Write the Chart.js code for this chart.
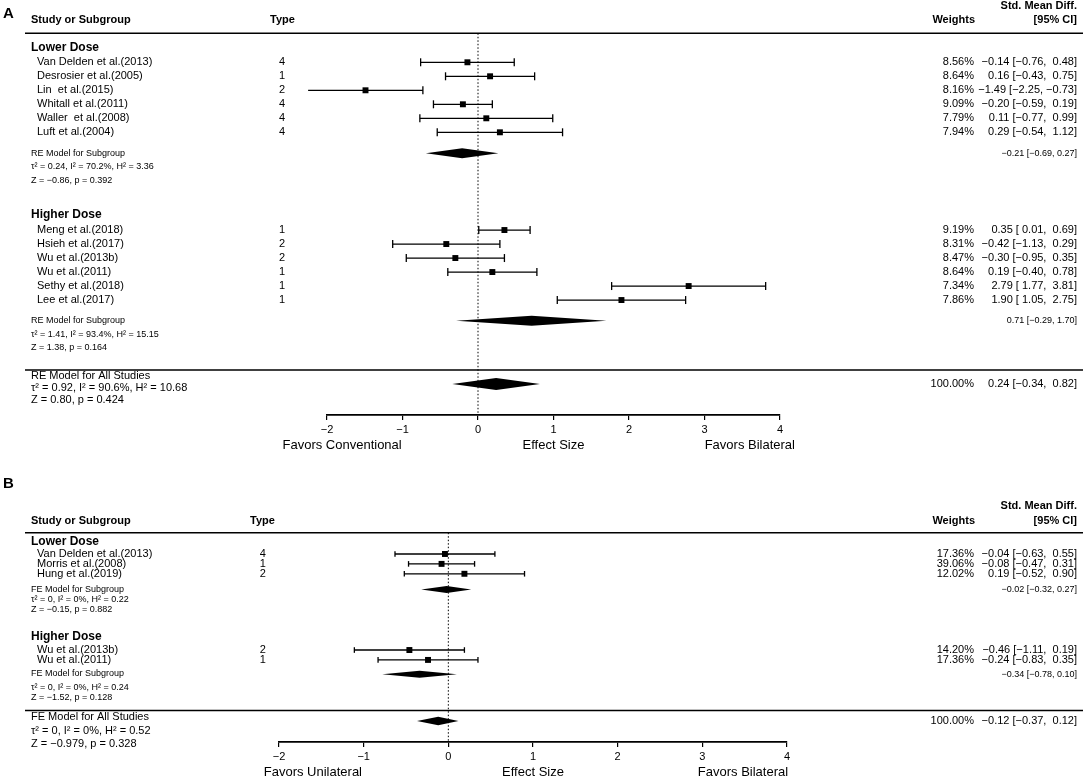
<!DOCTYPE html>
<html lang="en">
<head>
<meta charset="UTF-8">
<title>Forest plot - unilateral vs bilateral</title>
<script src="https://cdn.jsdelivr.net/npm/chart.js@4.4.1/dist/chart.umd.min.js"></script>
<style>
  html, body { margin: 0; padding: 0; background: #fff; overflow: hidden; }
  #wrap { position: relative; width: 1084px; height: 778px; }
  canvas { position: absolute; left: 0; }
  #panelA { top: 0; }
  #panelB { top: 460px; }
</style>
</head>
<body>
<div id="wrap">
  <canvas id="panelA" width="1084" height="460"></canvas>
  <canvas id="panelB" width="1084" height="320"></canvas>
</div>
<script>
// ---------- Panel A data ----------
const aLowerStudies = ["Van Delden et al.(2013)", "Desrosier et al.(2005)", "Lin  et al.(2015)", "Whitall et al.(2011)", "Waller  et al.(2008)", "Luft et al.(2004)"];
const aLowerType = [4, 1, 2, 4, 4, 4];
const aLowerWeight = [8.56, 8.64, 8.16, 9.09, 7.79, 7.94];
const aLowerEst = [-0.14, 0.16, -1.49, -0.20, 0.11, 0.29];
const aLowerLo = [-0.76, -0.43, -2.25, -0.59, -0.77, -0.54];
const aLowerHi = [0.48, 0.75, -0.73, 0.19, 0.99, 1.12];
const aLowerSummary = [-0.21, -0.69, 0.27];
const aLowerHet = ["0.24", "70.2%", "3.36", "\u22120.86", "0.392"];

const aHigherStudies = ["Meng et al.(2018)", "Hsieh et al.(2017)", "Wu et al.(2013b)", "Wu et al.(2011)", "Sethy et al.(2018)", "Lee et al.(2017)"];
const aHigherType = [1, 2, 2, 1, 1, 1];
const aHigherWeight = [9.19, 8.31, 8.47, 8.64, 7.34, 7.86];
const aHigherEst = [0.35, -0.42, -0.30, 0.19, 2.79, 1.90];
const aHigherLo = [0.01, -1.13, -0.95, -0.40, 1.77, 1.05];
const aHigherHi = [0.69, 0.29, 0.35, 0.78, 3.81, 2.75];
const aHigherSummary = [0.71, -0.29, 1.70];
const aHigherHet = ["1.41", "93.4%", "15.15", "1.38", "0.164"];

const aOverall = [0.24, -0.34, 0.82];
const aOverallHet = ["0.92", "90.6%", "10.68", "0.80", "0.424"];
const aFavors = ["Favors Conventional", "Favors Bilateral"];

// ---------- Panel B data ----------
const bLowerStudies = ["Van Delden et al.(2013)", "Morris et al.(2008)", "Hung et al.(2019)"];
const bLowerType = [4, 1, 2];
const bLowerWeight = [17.36, 39.06, 12.02];
const bLowerEst = [-0.04, -0.08, 0.19];
const bLowerLo = [-0.63, -0.47, -0.52];
const bLowerHi = [0.55, 0.31, 0.90];
const bLowerSummary = [-0.02, -0.32, 0.27];
const bLowerHet = ["0", "0%", "0.22", "\u22120.15", "0.882"];

const bHigherStudies = ["Wu et al.(2013b)", "Wu et al.(2011)"];
const bHigherType = [2, 1];
const bHigherWeight = [14.20, 17.36];
const bHigherEst = [-0.46, -0.24];
const bHigherLo = [-1.11, -0.83];
const bHigherHi = [0.19, 0.35];
const bHigherSummary = [-0.34, -0.78, 0.10];
const bHigherHet = ["0", "0%", "0.24", "\u22121.52", "0.128"];

const bOverall = [-0.12, -0.37, 0.12];
const bOverallHet = ["0", "0%", "0.52", "\u22120.979", "0.328"];
const bFavors = ["Favors Unilateral", "Favors Bilateral"];

const groupNames = ["Lower Dose", "Higher Dose"];
const xTicksMin = -2, xTicksMax = 4;

// ---------- helpers ----------
const FONT = "'Liberation Sans', Arial, Helvetica, sans-serif";
const MINUS = "\u2212";
Chart.defaults.font.family = FONT;
Chart.defaults.color = "#000";

function num(v) { return (v < 0 ? MINUS : "") + Math.abs(v).toFixed(2); }
function padNum(v) { return v < 0 ? MINUS + Math.abs(v).toFixed(2) : " " + v.toFixed(2); }
function ciText(e, lo, hi) { return num(e) + " [" + padNum(lo) + ", " + padNum(hi) + "]"; }
function ciSmall(s) { return num(s[0]) + " [" + num(s[1]) + ", " + num(s[2]) + "]"; }
function hetLine(h) { return "\u03c4\u00b2 = " + h[0] + ", I\u00b2 = " + h[1] + ", H\u00b2 = " + h[2]; }
function zLine(h) { return "Z = " + h[3] + ", p = " + h[4]; }

function txt(ctx, s, x, y, size, weight, align) {
  ctx.font = (weight || "normal") + " " + size + "px " + FONT;
  ctx.textAlign = align || "left";
  ctx.textBaseline = "middle";
  ctx.fillStyle = "#000";
  ctx.fillText(s, x, y);
}
function hline(ctx, y) {
  ctx.save();
  ctx.strokeStyle = "#000";
  ctx.lineWidth = 1.6;
  ctx.beginPath();
  ctx.moveTo(25, y);
  ctx.lineTo(1083, y);
  ctx.stroke();
  ctx.restore();
}

// ---------- panels ----------
const panelA = {
  letter: "A", model: "RE", favors: aFavors, favorsX: [-1.8, 3.6],
  groups: [
    { studies: aLowerStudies, type: aLowerType, weight: aLowerWeight, est: aLowerEst, lo: aLowerLo, hi: aLowerHi, summary: aLowerSummary, het: aLowerHet },
    { studies: aHigherStudies, type: aHigherType, weight: aHigherWeight, est: aHigherEst, lo: aHigherLo, hi: aHigherHi, summary: aHigherSummary, het: aHigherHet }
  ],
  overall: aOverall, overallHet: aOverallHet
};
const layoutA = {
  padTop: 33.3, padBottom: 8, padLeft: 327, padRight: 304, yMax: 27.26,
  head: [1.0, 12.98], first: [2.07, 14.05], summ: [8.57, 20.53], sep: 24.05, overall: 25.05,
  statOff: [[0, 13.5, 27], [0, 13.5, 27]], overallOff: [-7.6, 4.2, 15.7],
  letterY: 14, stdY: 6, headY: 19.5, typeHeadX: 270, typeX: 282,
  cap: 4, sq: 4.2, dH: 5, oH: 6
};

const panelB = {
  letter: "B", model: "FE", favors: bFavors, favorsX: [-1.6, 3.48],
  groups: [
    { studies: bLowerStudies, type: bLowerType, weight: bLowerWeight, est: bLowerEst, lo: bLowerLo, hi: bLowerHi, summary: bLowerSummary, het: bLowerHet },
    { studies: bHigherStudies, type: bHigherType, weight: bHigherWeight, est: bHigherEst, lo: bHigherLo, hi: bHigherHi, summary: bHigherSummary, het: bHigherHet }
  ],
  overall: bOverall, overallHet: bOverallHet
};
const layoutB = {
  padTop: 72.7, padBottom: 1, padLeft: 279, padRight: 297, yMax: 21.14,
  head: [0.94, 10.5], first: [2.15, 11.85], summ: [5.74, 14.3], sep: 17.96, overall: 19.02,
  statOff: [[-0.3, 9.7, 19.7], [-1, 13.4, 23]], overallOff: [-4.3, 9.5, 22.5],
  letterY: 24.3, stdY: 46, headY: 61, typeHeadX: 250, typeX: 262.7,
  cap: 2.8, sq: 4.2, dH: 3.5, oH: 4.2
};

function buildChart(canvasId, panel, lay) {
  const ci = [], caps = [], squares = [];
  panel.groups.forEach((g, gi) => {
    g.est.forEach((e, i) => {
      const r = lay.first[gi] + i;
      ci.push({ x: g.lo[i], y: r }, { x: g.hi[i], y: r }, { x: null, y: null });
      caps.push({ x: g.lo[i], y: r }, { x: g.hi[i], y: r });
      squares.push({ x: e, y: r });
    });
  });

  const forestPlugin = {
    id: "forestText",
    afterDatasetsDraw(chart) {
      const ctx = chart.ctx;
      const xs = chart.scales.x, ys = chart.scales.y;
      const yp = v => ys.getPixelForValue(v);

      function diamond(s, row, h) {
        const y = yp(row);
        ctx.beginPath();
        ctx.moveTo(xs.getPixelForValue(s[1]), y);
        ctx.lineTo(xs.getPixelForValue(s[0]), y - h);
        ctx.lineTo(xs.getPixelForValue(s[2]), y);
        ctx.lineTo(xs.getPixelForValue(s[0]), y + h);
        ctx.closePath();
        ctx.fill();
      }

      ctx.save();
      ctx.fillStyle = "#000";

      // header
      txt(ctx, panel.letter, 3, lay.letterY, 15, "bold");
      txt(ctx, "Std. Mean Diff.", 1077, lay.stdY, 11, "bold", "right");
      txt(ctx, "Study or Subgroup", 31, lay.headY, 11, "bold");
      txt(ctx, "Type", lay.typeHeadX, lay.headY, 11, "bold");
      txt(ctx, "Weights", 975, lay.headY, 11, "bold", "right");
      txt(ctx, "[95% CI]", 1077, lay.headY, 11, "bold", "right");
      hline(ctx, yp(0));

      // groups
      panel.groups.forEach((g, gi) => {
        txt(ctx, groupNames[gi], 31, yp(lay.head[gi]), 12, "bold");
        g.studies.forEach((name, i) => {
          const y = yp(lay.first[gi] + i);
          txt(ctx, name, 37, y, 11);
          txt(ctx, String(g.type[i]), lay.typeX, y, 11, "normal", "center");
          txt(ctx, g.weight[i].toFixed(2) + "%", 974, y, 11, "normal", "right");
          txt(ctx, ciText(g.est[i], g.lo[i], g.hi[i]), 1077, y, 11, "normal", "right");
        });
        const sy = yp(lay.summ[gi]);
        const off = lay.statOff[gi];
        diamond(g.summary, lay.summ[gi], lay.dH);
        txt(ctx, panel.model + " Model for Subgroup", 31, sy + off[0], 9);
        txt(ctx, hetLine(g.het), 31, sy + off[1], 9);
        txt(ctx, zLine(g.het), 31, sy + off[2], 9);
        txt(ctx, ciSmall(g.summary), 1077, sy, 9, "normal", "right");
      });

      // overall
      hline(ctx, yp(lay.sep));
      const oy = yp(lay.overall);
      diamond(panel.overall, lay.overall, lay.oH);
      txt(ctx, panel.model + " Model for All Studies", 31, oy + lay.overallOff[0], 11);
      txt(ctx, hetLine(panel.overallHet), 31, oy + lay.overallOff[1], 11);
      txt(ctx, zLine(panel.overallHet), 31, oy + lay.overallOff[2], 11);
      txt(ctx, "100.00%", 974, oy, 11, "normal", "right");
      txt(ctx, ciText(panel.overall[0], panel.overall[1], panel.overall[2]), 1077, oy, 11, "normal", "right");

      // favours labels beside the axis title
      const fy = chart.chartArea.bottom + 30.5;
      txt(ctx, panel.favors[0], xs.getPixelForValue(panel.favorsX[0]), fy, 13, "normal", "center");
      txt(ctx, panel.favors[1], xs.getPixelForValue(panel.favorsX[1]), fy, 13, "normal", "center");
      ctx.restore();
    }
  };

  return new Chart(document.getElementById(canvasId), {
    type: "scatter",
    data: {
      datasets: [
        { data: [{ x: 0, y: 0 }, { x: 0, y: lay.yMax }], showLine: true, borderColor: "#000", borderWidth: 1, borderDash: [1.5, 2], pointRadius: 0, clip: false },
        { data: ci, showLine: true, spanGaps: false, borderColor: "#000", borderWidth: 1.3, pointRadius: 0, clip: false },
        { data: caps, pointStyle: "line", rotation: 90, pointRadius: lay.cap, borderColor: "#000", borderWidth: 1.3, clip: false },
        { data: squares, pointStyle: "rect", pointRadius: lay.sq, backgroundColor: "#000", borderColor: "#000", borderWidth: 0, clip: false }
      ]
    },
    options: {
      responsive: false,
      animation: false,
      events: [],
      layout: { padding: { top: lay.padTop, bottom: lay.padBottom, left: lay.padLeft, right: lay.padRight } },
      plugins: { legend: { display: false }, tooltip: { enabled: false } },
      scales: {
        x: {
          type: "linear", position: "bottom", min: xTicksMin, max: xTicksMax,
          ticks: { stepSize: 1, padding: 4, color: "#000", font: { size: 11, lineHeight: 1 },
                   callback: v => String(v).replace("-", MINUS) },
          grid: { drawOnChartArea: false, drawTicks: true, tickLength: 5, color: "#000", lineWidth: 1.2 },
          border: { display: true, color: "#000", width: 1.8 },
          title: { display: true, text: "Effect Size", color: "#000", font: { size: 13, lineHeight: 1 }, padding: { top: 0, bottom: 0 } }
        },
        y: { type: "linear", display: false, reverse: true, min: 0, max: lay.yMax }
      }
    },
    plugins: [forestPlugin]
  });
}

buildChart("panelA", panelA, layoutA);
buildChart("panelB", panelB, layoutB);
</script>
</body>
</html>
